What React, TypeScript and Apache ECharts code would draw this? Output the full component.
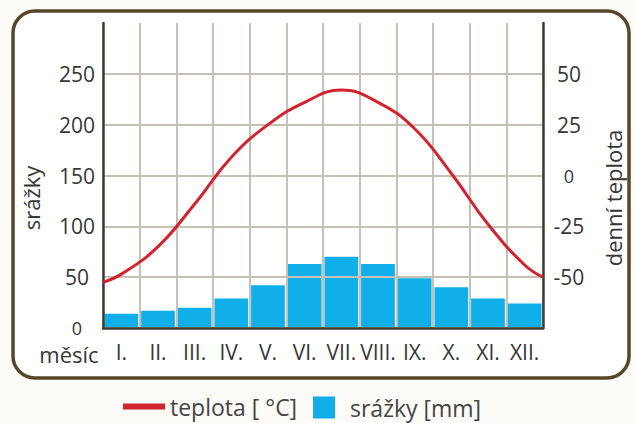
import React, { useEffect, useRef } from "react";
import * as echarts from "echarts";

const months = ["I.", "II.", "III.", "IV.", "V.", "VI.", "VII.", "VIII.", "IX.", "X.", "XI.", "XII."];
const precipitation = [14, 17, 20, 29, 42, 63, 70, 63, 49, 40, 29, 24];
const tempPositions = [0, 0.5, 1.5, 2.5, 3.5, 4.5, 5.5, 6.5, 7.5, 8.5, 9.5, 10.5, 11.5, 12];
const temperature = [-52.5, -48.5, -35, -14, 9, 25, 36, 42, 36, 23, 1, -24, -44, -50];
const precipTicks = [0, 50, 100, 150, 200, 250];
const tempTicks = [-50, -25, 0, 25, 50];

const FONT = "Open Sans";
const TXT = "#363636";
const GRID = "#c6c1b7";
const AXIS = "#3e3b30";

const labelText = (ticks: number[]) => (v: number) => {
  if (!ticks.includes(v)) return "";
  return v === 0 ? "{z|0}" : String(v);
};

export default function App() {
  const ref = useRef<HTMLDivElement>(null);
  useEffect(() => {
    const chart = echarts.init(ref.current!, null, { renderer: "svg" });
    const option = {
      animation: false,
      backgroundColor: "#fcfbf7",
      textStyle: { fontFamily: FONT },
      grid: { left: 103, right: 92, top: 23, bottom: 95, containLabel: false },
      graphic: {
        elements: [
          {
            type: "rect",
            z: 0,
            silent: true,
            shape: { x: 13, y: 11, width: 616, height: 367, r: 22 },
            style: { fill: "#ffffff", stroke: "#55482a", lineWidth: 3.5 },
          },
          {
            type: "text",
            z: 10,
            x: 69,
            y: 354,
            style: { text: "měsíc", fontSize: 22, fill: TXT, align: "center", verticalAlign: "middle", fontFamily: FONT },
          },
          {
            type: "text",
            z: 10,
            x: 31,
            y: 198,
            rotation: Math.PI / 2,
            style: { text: "srážky", fontSize: 22, fill: TXT, align: "center", verticalAlign: "middle", fontFamily: FONT },
          },
          {
            type: "text",
            z: 10,
            x: 613,
            y: 198,
            rotation: Math.PI / 2,
            style: { text: "denní teplota", fontSize: 22, fill: TXT, align: "center", verticalAlign: "middle", fontFamily: FONT },
          },
        ],
      },
      legend: [
        {
          data: [{ name: "teplota [ °C]", icon: "rect" }],
          left: 118,
          top: 390,
          itemWidth: 42,
          itemHeight: 6,
          selectedMode: false,
          textStyle: { fontSize: 23, color: "#444", fontFamily: FONT },
        },
        {
          data: [{ name: "srážky [mm]", icon: "path://M0,0H10V10H0Z" }],
          left: 308,
          top: 391,
          itemWidth: 42,
          itemHeight: 22,
          selectedMode: false,
          textStyle: { fontSize: 23, color: "#444", fontFamily: FONT },
        },
      ],
      xAxis: [
        {
          type: "category",
          data: months,
          boundaryGap: true,
          z: 3,
          axisLine: { show: true, lineStyle: { color: AXIS, width: 2.5 } },
          axisTick: { show: false },
          axisLabel: { interval: 0, margin: 13, fontSize: 21, color: TXT, fontFamily: FONT },
          splitLine: { show: true, interval: 0, lineStyle: { color: GRID, width: 2 } },
        },
        {
          type: "value",
          min: 0,
          max: 12,
          show: false,
        },
      ],
      yAxis: [
        {
          type: "value",
          min: 0,
          max: 300,
          interval: 50,
          z: 3,
          axisLine: { show: true, lineStyle: { color: AXIS, width: 2.5 } },
          axisTick: { show: false },
          axisLabel: {
            align: "center",
            margin: 26,
            fontSize: 21,
            color: TXT,
            fontFamily: FONT,
            formatter: labelText(precipTicks),
            rich: { z: { fontSize: 18, color: TXT, fontFamily: FONT } },
          },
          splitLine: {
            show: true,
            lineStyle: { color: [GRID, GRID, GRID, GRID, GRID, GRID, "rgba(0,0,0,0)"], width: 2 },
          },
        },
        {
          type: "value",
          min: -75,
          max: 75,
          interval: 25,
          position: "right",
          z: 3,
          axisLine: { show: true, lineStyle: { color: AXIS, width: 2.5 } },
          axisTick: { show: false },
          axisLabel: {
            align: "center",
            margin: 26,
            fontSize: 21,
            color: TXT,
            fontFamily: FONT,
            formatter: labelText(tempTicks),
            rich: { z: { fontSize: 18, color: TXT, fontFamily: FONT } },
          },
          splitLine: { show: false },
        },
      ],
      series: [
        {
          name: "srážky [mm]",
          type: "bar",
          data: precipitation,
          xAxisIndex: 0,
          yAxisIndex: 0,
          barCategoryGap: "8%",
          z: 2,
          itemStyle: { color: "#10afe9" },
        },
        {
          name: "teplota [ °C]",
          type: "line",
          data: tempPositions.map((x, i) => [x, temperature[i]]),
          xAxisIndex: 1,
          yAxisIndex: 1,
          smooth: 0.45,
          showSymbol: false,
          z: 5,
          color: "#d3232e",
          itemStyle: { color: "#d3232e" },
          lineStyle: { color: "#d3232e", width: 3 },
        },
      ],
    };
    chart.setOption(option as any);
    return () => chart.dispose();
  }, []);
  return (
    <div
      ref={ref}
      style={{ position: "fixed", left: 0, top: 0, width: 635, height: 423 }}
    />
  );
}
